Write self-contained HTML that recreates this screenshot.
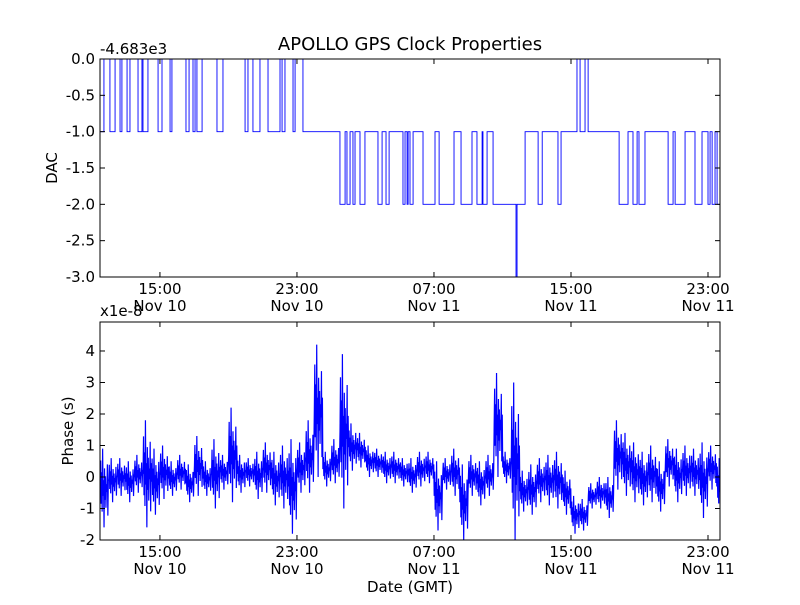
<!DOCTYPE html>
<html><head><meta charset="utf-8"><style>
body{margin:0;background:#fff;}
svg text{font-family:"DejaVu Sans","Liberation Sans",sans-serif;fill:#000;}
</style></head><body>
<svg id="chart" width="800" height="600" xmlns="http://www.w3.org/2000/svg">
<rect width="800" height="600" fill="#fff"/>
</svg>
<script>
// ---- data ----
// hours since Nov 10 11:30 GMT
const dacTimes = [0,0.23,0.58,0.88,1.17,1.28,1.58,1.75,2.22,2.45,2.51,2.80,3.39,3.62,4.09,4.20,5.02,5.20,5.43,5.55,5.66,5.96,6.83,7.18,8.47,8.64,8.93,9.34,9.81,10.51,10.63,10.80,11.27,11.39,11.85,14.01,14.31,14.42,14.60,14.77,14.89,15.18,15.47,16.23,16.47,16.70,16.88,17.69,17.81,17.93,17.99,18.10,18.28,18.86,19.56,19.80,20.67,21.08,21.72,22.01,22.31,22.36,22.60,22.95,24.29,24.35,24.82,25.58,25.82,26.74,26.92,27.85,28.03,28.32,28.50,30.31,30.83,31.12,31.36,31.47,31.82,33.17,33.46,33.58,34.16,34.74,35.15,35.50,35.62,35.74,35.91,36.03];
const dacValues = [-1,0,-1,0,-1,0,-1,0,-1,0,-1,0,-1,0,-1,0,-1,0,-1,0,-1,0,-1,0,-1,0,-1,0,-1,0,-1,0,-1,0,-1,-2,-1,-2,-1,-2,-1,-2,-1,-2,-1,-2,-1,-2,-1,-2,-1,-2,-1,-2,-1,-2,-1,-2,-1,-2,-1,-2,-1,-2,-3,-2,-1,-2,-1,-2,-1,0,-1,0,-1,-2,-1,-2,-1,-2,-1,-2,-1,-2,-1,-2,-1,-2,-1,-2,-1,-2];
const phaseBinHours = 0.5;
const phaseHi = [0.9,0.6,0.6,0.5,0.7,1.8,0.9,1.0,0.5,0.7,0.4,1.3,0.5,1.2,0.7,2.2,0.7,0.6,0.8,1.1,0.8,1.0,1.2,1.1,1.8,4.2,0.8,1.2,3.9,1.7,1.4,1.0,0.9,0.8,0.8,0.6,0.6,0.8,0.8,0.5,0.6,0.9,0.4,0.7,0.5,0.7,3.3,0.8,3.0,0.2,0.4,0.6,0.7,0.8,0.2,-0.6,-0.7,-0.2,0.0,0.0,1.8,1.4,1.1,0.8,1.0,0.5,1.2,0.9,1.0,0.9,1.1,1.0,0.6];
const phaseLo = [-1.6,-0.8,-0.6,-0.8,-0.5,-1.6,-1.2,-0.7,-0.6,-0.4,-0.8,-0.6,-0.6,-1.0,-0.4,-0.8,-0.5,-0.3,-0.7,-0.5,-0.9,-1.0,-1.8,-0.5,-0.5,0.0,-0.3,-0.2,-1.0,0.2,0.3,0.0,0.0,-0.2,-0.2,-0.3,-0.5,-0.3,-0.2,-1.7,-0.4,-0.6,-2.0,-0.6,-0.9,-0.6,0.0,-0.2,-2.0,-1.1,-1.2,-0.8,-0.9,-1.0,-1.2,-1.8,-1.7,-1.0,-1.0,-1.3,-0.4,-0.6,-0.8,-0.9,-0.8,-1.1,-0.3,-0.8,-0.6,-0.6,-1.3,-0.4,-1.2];
const xTickHours = [3.5,11.5,19.5,27.5,35.5];
const xTickTimes = ["15:00","23:00","07:00","15:00","23:00"];
const xTickDays = ["Nov 10","Nov 10","Nov 11","Nov 11","Nov 11"];
const dacTicks = [0,-0.5,-1,-1.5,-2,-2.5,-3];
const dacTickLabels = ["0.0","-0.5","-1.0","-1.5","-2.0","-2.5","-3.0"];
const phaseTicks = [4,3,2,1,0,-1,-2];
const phaseTickLabels = ["4","3","2","1","0","-1","-2"];

// ---- layout ----
const NS="http://www.w3.org/2000/svg";
const svg=document.getElementById('chart');
const L=100,R=720,xMax=36.2;
const X=h=>L+(h/xMax)*(R-L);
const top1=59,bot1=277,top2=322,bot2=540;
const Y1=v=>top1+(0-v)/3*(bot1-top1);
const pMin=-2,pMax=4.92;
const Y2=v=>bot2-(v-pMin)/(pMax-pMin)*(bot2-top2);
function el(tag,attrs,parent){const e=document.createElementNS(NS,tag);for(const k in attrs)e.setAttribute(k,attrs[k]);(parent||svg).appendChild(e);return e;}
function txt(s,x,y,anchor,size,parent){const t=el('text',{x:x,y:y,'text-anchor':anchor,'font-size':size},parent);t.textContent=s;return t;}

const defs=el('defs',{});
const c1=el('clipPath',{id:'c1'},defs);el('rect',{x:L,y:top1,width:R-L,height:bot1-top1},c1);
const c2=el('clipPath',{id:'c2'},defs);el('rect',{x:L,y:top2,width:R-L,height:bot2-top2},c2);

// DAC line
let d='';
for(let i=0;i<dacTimes.length;i++){
  const x=X(dacTimes[i]),y=Y1(dacValues[i]);
  if(i===0)d+=`M${x},${y}`;else d+=`L${x},${Y1(dacValues[i-1])}L${x},${y}`;
}
d+=`L${R},${Y1(dacValues[dacValues.length-1])}`;
const dacLine=el('path',{d:d,fill:'none',stroke:'#0000ff','stroke-width':0.9,'clip-path':'url(#c1)'});



// Phase line: zigzag within each bin between its low and high extremes
const zig=[0.5,0.85,0.3,0.7,0.2,1.0,0.4,0.6,0.0,0.75,0.35,0.65,0.25,0.55,0.45,0.8,0.15,0.6];
let pd='';
for(let i=0;i<phaseHi.length;i++){
  const h0=i*phaseBinHours;
  const n=zig.length;
  for(let k=0;k<n;k++){
    const h=h0+phaseBinHours*(k+0.5)/n;
    const v=phaseLo[i]+(phaseHi[i]-phaseLo[i])*zig[k];
    pd+=(pd===''?'M':'L')+X(h).toFixed(2)+','+Y2(v).toFixed(2);
  }
}
const phaseLine=el('path',{d:pd,fill:'none',stroke:'#0000ff','stroke-width':1.2,'clip-path':'url(#c2)'});



function axes(top,bot,yTicks,yLabels,Yf,name){
  const g=el('g',{});
  
  
  el('rect',{x:L,y:top,width:R-L,height:bot-top,fill:'none',stroke:'#000','stroke-width':1},g);
  for(let i=0;i<yTicks.length;i++){
    const y=Yf(yTicks[i]);
    el('line',{x1:L,y1:y,x2:L+5,y2:y,stroke:'#000'},g);
    el('line',{x1:R,y1:y,x2:R-5,y2:y,stroke:'#000'},g);
    const t=txt(yLabels[i],L-5,y+5,'end',15,g);
    
    
  }
  for(let i=0;i<xTickHours.length;i++){
    const x=X(xTickHours[i]);
    el('line',{x1:x,y1:bot,x2:x,y2:bot-5,stroke:'#000'},g);
    el('line',{x1:x,y1:top,x2:x,y2:top+5,stroke:'#000'},g);
    const t1=txt(xTickTimes[i],x,bot+17,'middle',15,g);
    
    
    const t2=txt(xTickDays[i],x,bot+34,'middle',15,g);
    
    
  }
}
axes(top1,bot1,dacTicks,dacTickLabels,Y1,'dac-axes');
axes(top2,bot2,phaseTicks,phaseTickLabels,Y2,'phase-axes');

const title=txt('APOLLO GPS Clock Properties',410,50,'middle',18);


const off1=txt('-4.683e3',100,54,'start',15);


const off2=txt('x1e-8',100,316,'start',15);


const yl1=txt('DAC',0,0,'middle',15);
yl1.setAttribute('transform','translate(57,168) rotate(-90)');


const yl2=txt('Phase (s)',0,0,'middle',15);
yl2.setAttribute('transform','translate(73,431) rotate(-90)');


const xl=txt('Date (GMT)',410,592,'middle',15);


</script>
</body></html>
